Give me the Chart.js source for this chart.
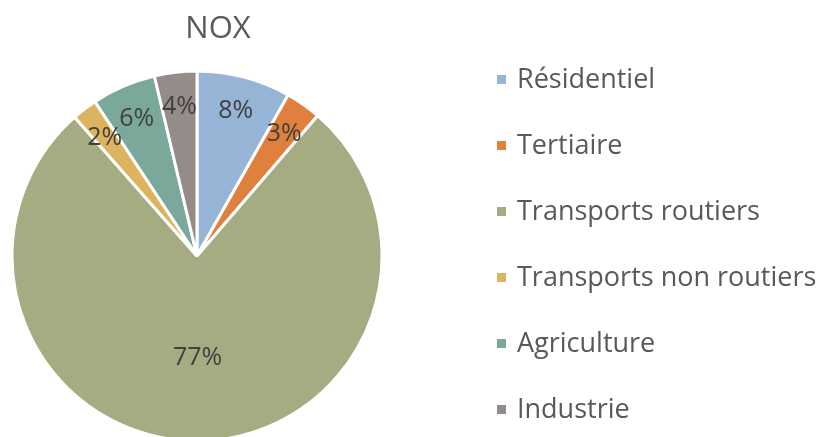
<!DOCTYPE html>
<html>
<head>
<meta charset="utf-8">
<script src="https://cdn.jsdelivr.net/npm/chart.js@4"></script>
<style>
  body { margin: 0; background: #fff; }
</style>
</head>
<body>
<canvas id="pieChart" width="825" height="437"></canvas>
<script>
// data
var titleText = 'NOX';
var categories = ['Résidentiel', 'Tertiaire', 'Transports routiers', 'Transports non routiers', 'Agriculture', 'Industrie'];
var values = [8.2, 3.1, 77.2, 2.2, 5.6, 3.7];
var colors = ['#95b4d6', '#e0803d', '#a5ac81', '#dcb35e', '#7aa99b', '#958b89'];

var fontFamily = '"Open Sans", Lato, sans-serif';

// percent labels inside the slices
var sliceLabels = {
    id: 'sliceLabels',
    afterDatasetsDraw(chart) {
        var ctx = chart.ctx;
        var meta = chart.getDatasetMeta(0);
        var total = values.reduce((a, b) => a + b, 0);
        ctx.save();
        ctx.font = '25px ' + fontFamily;
        ctx.fillStyle = '#404040';
        ctx.textAlign = 'center';
        ctx.textBaseline = 'middle';
        meta.data.forEach((arc, i) => {
            var p = arc.getProps(['x', 'y', 'startAngle', 'endAngle', 'outerRadius']);
            var mid = (p.startAngle + p.endAngle) / 2;
            var share = values[i] / total;
            var r = p.outerRadius * (share > 0.5 ? 0.54 : 0.82);
            var txt = Math.round(share * 100) + '%';
            ctx.fillText(txt, p.x + Math.cos(mid) * r, p.y + Math.sin(mid) * r + 2);
        });
        ctx.restore();
    }
};

// title and legend on the right
var sideLegend = {
    id: 'sideLegend',
    afterDraw(chart) {
        var ctx = chart.ctx;
        ctx.save();
        ctx.fillStyle = '#595959';
        ctx.textAlign = 'center';
        ctx.textBaseline = 'middle';
        ctx.font = '31px ' + fontFamily;
        ctx.fillText(titleText, 218, 29);

        ctx.font = '27px ' + fontFamily;
        ctx.textAlign = 'left';
        categories.forEach((c, i) => {
            var y = 80 + i * 66;
            ctx.fillStyle = colors[i];
            ctx.fillRect(497, y - 5, 9, 9);
            ctx.fillStyle = '#595959';
            ctx.fillText(c, 517, y);
        });
        ctx.restore();
    }
};

var ctx = document.getElementById('pieChart').getContext('2d');

var nox = new Chart(ctx, {
    type: 'pie',
    data: {
        labels: categories,
        datasets: [{
            data: values,
            backgroundColor: colors,
            borderColor: '#ffffff',
            borderWidth: 3,
            radius: 185
        }]
    },
    options: {
        responsive: false,
        animation: false,
        layout: {
            padding: { left: 0, right: 431, top: 75, bottom: 0 }
        },
        plugins: {
            legend: { display: false },
            title: { display: false },
            tooltip: { enabled: false }
        }
    },
    plugins: [sliceLabels, sideLegend]
});
</script>
</body>
</html>
